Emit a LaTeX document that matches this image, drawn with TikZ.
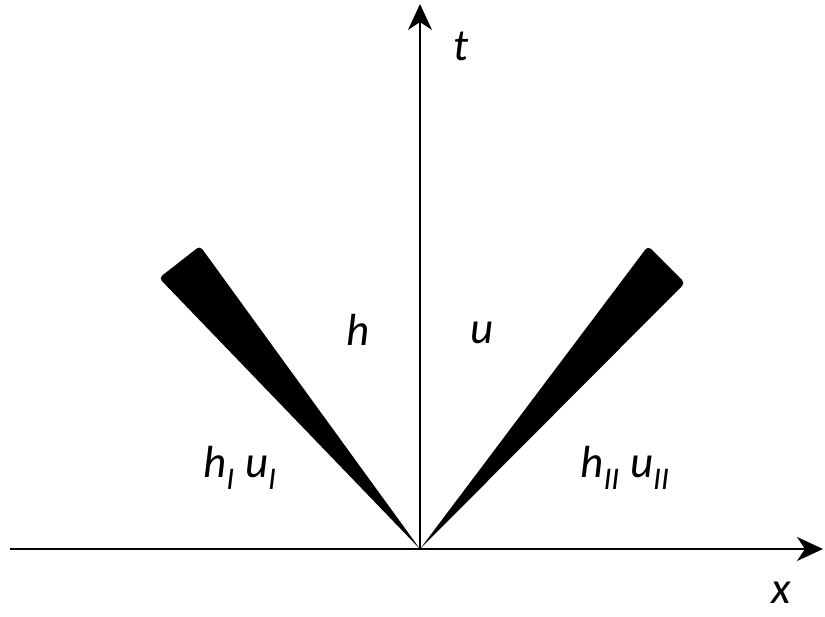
\documentclass[tikz,border=0pt]{standalone}
\usepackage{fontspec}
\setmainfont{Carlito}
\usetikzlibrary{arrows.meta}
\tikzset{
  axis/.style={line width=1.6pt, -{Stealth[length=26pt,width=24pt,inset=8pt]}},
  lab/.style={font=\fontsize{45}{50}\selectfont\itshape, inner sep=0pt}
}
\begin{document}
\begin{tikzpicture}[x=1pt,y=-1pt]
\useasboundingbox (0,0) rectangle (825,617);
\coordinate (O) at (420,549);
\coordinate (xs) at (10,549);
\coordinate (xe) at (823,549);
\coordinate (te) at (420,4);
\coordinate (L1) at (159,278);
\coordinate (L2) at (200,246);
\coordinate (R1) at (648,246);
\coordinate (R2) at (685,283);
\fill[black] (O) [rounded corners=4pt] -- (L1) -- (L2) [sharp corners] -- cycle;
\fill[black] (O) [rounded corners=4pt] -- (R1) -- (R2) [sharp corners] -- cycle;
\draw[axis] (xs) -- (xe);
\draw[axis] (O) -- (te);
\node[lab] (t) at (461,46) {t};
\node[lab] (x) at (781,593) {x};
\node[lab] (h) at (358,330) {h};
\node[lab] (u) at (482,333) {u};
\node[lab] (hl) at (240,468) {h\textsubscript{I} u\textsubscript{I}};
\node[lab] (hr) at (625,468) {h\textsubscript{II} u\textsubscript{II}};
\end{tikzpicture}
\end{document}
